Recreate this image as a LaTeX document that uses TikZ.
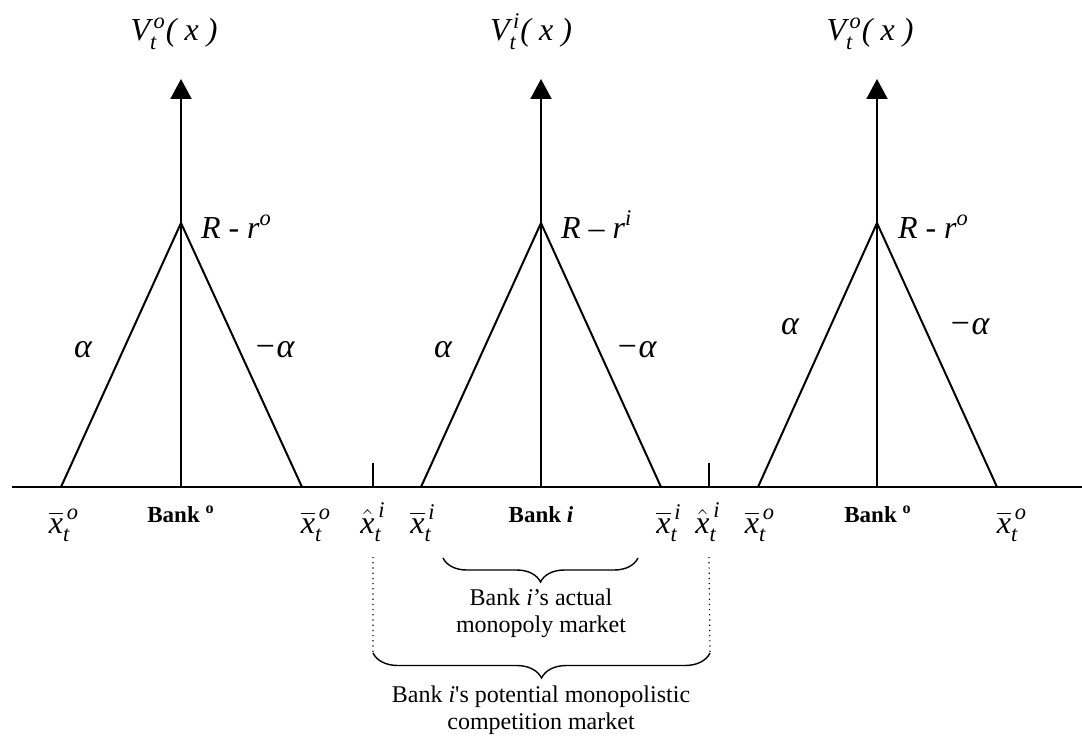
\documentclass[tikz,border=0pt]{standalone}
\usepackage{amsmath}
\usepackage{fontspec}
\setmainfont{Liberation Serif}
\usetikzlibrary{arrows.meta,decorations.pathreplacing}
\newcommand{\ti}[1]{\text{\itshape #1}}
\newcommand{\xbar}[1]{$\overline{\ti{x}}^{\,\ti{#1}}_{\ti{t}}$}
\newcommand{\xhat}[1]{$\hat{\ti{x}}^{\,\ti{#1}}_{\ti{t}}$}
\tikzset{
  lab/.style={font=\fontsize{16}{19}\selectfont,inner sep=0pt,anchor=base},
  slope/.style={font=\fontsize{17}{20}\selectfont\itshape,inner sep=0pt},
  xlab/.style={font=\fontsize{16}{19}\selectfont,inner sep=0pt,anchor=base},
  banklab/.style={font=\fontsize{11.5}{14}\selectfont\bfseries,inner sep=0pt,anchor=base},
  note/.style={font=\fontsize{12}{13.5}\selectfont,align=center,inner sep=0pt},
  brc/.style={decorate,decoration={brace,mirror,amplitude=12pt},line width=0.7pt}
}

\begin{document}
\begin{tikzpicture}[x=0.5pt,y=-0.5pt,line width=1pt,>={Triangle[length=10pt,width=10.5pt]}]
\useasboundingbox (0,0) rectangle (1082,738);
% points on the axis
\path (12,487) coordinate (a0) (1082,487) coordinate (a1)
(61,487) coordinate (o1l) (181,487) coordinate (o1b) (302,487) coordinate (o1r)
(421,487) coordinate (il) (541,487) coordinate (ib) (661,487) coordinate (ir)
(758,487) coordinate (o2l) (877,487) coordinate (o2b) (997,487) coordinate (o2r)
(373,487) coordinate (h1) (709,487) coordinate (h2);
% tops
\path (181,223) coordinate (o1t) (181,79) coordinate (o1y)
(541,223) coordinate (it) (541,79) coordinate (iy)
(877,223) coordinate (o2t) (877,79) coordinate (o2y)
(373,463) coordinate (h1t) (709,463) coordinate (h2t);
\draw (a0)--(a1);
\draw[->] (o1b)--(o1y);
\draw[->] (ib)--(iy);
\draw[->] (o2b)--(o2y);
\draw (o1l)--(o1t)--(o1r)
(il)--(it)--(ir)
(o2l)--(o2t)--(o2r);
\draw (h1)--(h1t) (h2)--(h2t);
% value labels
\node[lab] (v1) at (174,41) {{\itshape V}$^{\,\ti{o}}_{\ti{t}}${\itshape( x )}};
\node[lab] (v2) at (531,41) {{\itshape V}$^{\,\ti{i}}_{\ti{t}}${\itshape( x )}};
\node[lab] (v3) at (870,41) {{\itshape V}$^{\,\ti{o}}_{\ti{t}}${\itshape( x )}};
\node[lab,anchor=base west] (r1) at (200,238) {{\itshape R} - {\itshape r}$^{\ti{o}}$};
\node[lab,anchor=base west] (r2) at (560,238) {{\itshape R} – {\itshape r}$^{\ti{i}}$};
\node[lab,anchor=base west] (r3) at (897,238) {{\itshape R} - {\itshape r}$^{\ti{o}}$};
% slopes
\node[slope] (s1) at (83,350) {α};
\node[slope] (s2) at (274,350) {−α};
\node[slope] (s3) at (443,350) {α};
\node[slope] (s4) at (636,350) {−α};
\node[slope] (s5) at (790,327) {α};
\node[slope] (s6) at (969,327) {−α};
% axis labels
\node[xlab] (x1) at (64,533) {\xbar{o}};
\node[xlab] (x2) at (316,533) {\xbar{o}};
\node[xlab] (x3) at (373,533) {\xhat{i}};
\node[xlab] (x4) at (423,533) {\xbar{i}};
\node[xlab] (x5) at (669,533) {\xbar{i}};
\node[xlab] (x6) at (708,533) {\xhat{i}};
\node[xlab] (x7) at (760,533) {\xbar{o}};
\node[xlab] (x8) at (1012,533) {\xbar{o}};
\node[banklab] (b1) at (181,522) {Bank \textsuperscript{o}};
\node[banklab] (b2) at (541,522) {Bank \itshape i};
\node[banklab] (b3) at (878,522) {Bank \textsuperscript{o}};
% markets
\coordinate (m1) at (443,558);
\coordinate (m2) at (638,558);
\coordinate (p1) at (373,653);
\coordinate (p2) at (710,653);
\draw[line width=0.6pt,dotted] (373,557)--(p1) (709,557)--(p2);
\draw[brc] (m1)--(m2);
\draw[brc,decoration={amplitude=12.5pt}] (p1)--(p2);
\node[note] (n1) at (541,613) {Bank {\itshape i}’s actual\\monopoly market};
\node[note] (n2) at (541,710) {Bank {\itshape i}\textquotesingle s potential monopolistic\\competition market};
\end{tikzpicture}
\end{document}
